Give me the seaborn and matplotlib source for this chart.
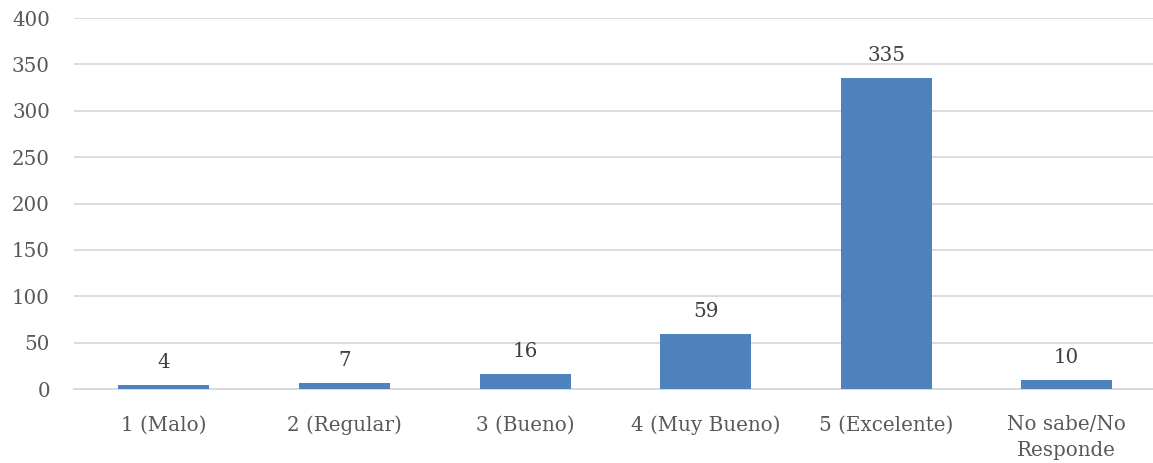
import pandas as pd
import seaborn as sns
import matplotlib.pyplot as plt

# datos
categorias = ['1 (Malo)', '2 (Regular)', '3 (Bueno)', '4 (Muy Bueno)',
              '5 (Excelente)', 'No sabe/No\nResponde']
valores = [4, 7, 16, 59, 335, 10]
yticks = [0, 50, 100, 150, 200, 250, 300, 350, 400]

df = pd.DataFrame({'Categoria': categorias, 'Valor': valores})

sns.set_style('white')
plt.rcParams['font.family'] = ['DejaVu Serif']

fig = plt.figure(figsize=(11.53, 4.63), dpi=100)
ax = fig.add_axes([0.0638, 0.1598, 0.9397, 0.8013])

sns.barplot(data=df, x='Categoria', y='Valor', color='#4F81BD',
            saturation=1, width=0.504, linewidth=0, ax=ax, zorder=3)

for i, v in enumerate(valores):
    ax.text(i, v + 14, str(v), ha='center', va='bottom',
            fontsize=14.3, color='#404040')

ax.set_ylim(0, 400)
ax.set_yticks(yticks)
ax.set_xlim(-0.5, len(categorias) - 0.5)
ax.grid(axis='y', color='#D9D9D9', linewidth=1.3, zorder=0)
ax.set_axisbelow(True)
for s in ['left', 'right', 'top']:
    ax.spines[s].set_visible(False)
ax.spines['bottom'].set_color('#D9D9D9')
ax.spines['bottom'].set_linewidth(1.3)
ax.tick_params(axis='both', length=0, labelsize=14.3, labelcolor='#595959')
ax.tick_params(axis='x', pad=19)
ax.tick_params(axis='y', pad=17)
ax.set_xlabel('')
ax.set_ylabel('')
for lbl in ax.get_xticklabels():
    lbl.set_linespacing(1.45)

fig.savefig('out.png', dpi=100)
